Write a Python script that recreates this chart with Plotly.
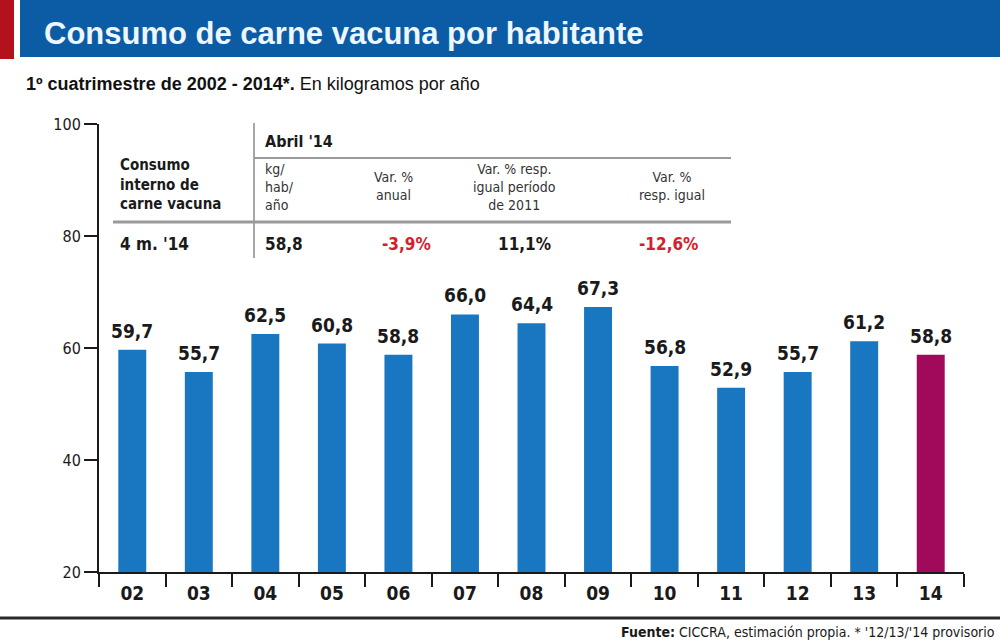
import plotly.graph_objects as go

# ---------------- data ----------------
years = ["02", "03", "04", "05", "06", "07", "08", "09", "10", "11", "12", "13", "14"]
consumo = [59.7, 55.7, 62.5, 60.8, 58.8, 66.0, 64.4, 67.3, 56.8, 52.9, 55.7, 61.2, 58.8]
y_ticks = [20, 40, 60, 80, 100]

title = "Consumo de carne vacuna por habitante"
subtitle_bold = "1º cuatrimestre de 2002 - 2014*."
subtitle_rest = " En kilogramos por año"
source_bold = "Fuente:"
source_rest = " CICCRA, estimación propia. * '12/13/'14 provisorio"

table_title = "Abril '14"
table_rowhead = "Consumo<br>interno de<br>carne vacuna"
table_colheads = ["kg/<br>hab/<br>año", "Var. %<br>anual", "Var. % resp.<br>igual período<br>de 2011", "Var. %<br>resp. igual"]
table_rowlabel = "4 m. '14"
table_values = ["58,8", "-3,9%", "11,1%", "-12,6%"]

# ---------------- styles ----------------
BLUE = "#1877c0"
MAGENTA = "#a1095a"
COND = "DejaVu Sans Condensed, Liberation Sans Narrow, Arial Narrow, sans-serif"
SANS = "Liberation Sans, Arial, sans-serif"
W, H = 1000, 643
ML, MR, MT, MB = 99, 36, 124, 71
PW, PH = W - ML - MR, H - MT - MB


def xp(px):
    return (px - ML) / PW


def yp(py):
    return (H - MB - py) / PH


colors = [BLUE] * (len(years) - 1) + [MAGENTA]
idx = list(range(len(years)))

fig = go.Figure()
fig.add_trace(go.Bar(x=idx, y=consumo, marker=dict(color=colors, line=dict(width=0)),
                     hoverinfo="skip"))

ann = []
shapes = []

# value labels from data
for i, v in zip(idx, consumo):
    ann.append(dict(x=i, y=v, xref="x", yref="y", text="<b>" + f"{v:.1f}".replace(".", ",") + "</b>",
                    showarrow=False, yanchor="bottom", yshift=6,
                    font=dict(family=COND, size=19, color="#1a1a1a")))

# header band
shapes.append(dict(type="rect", xref="paper", yref="paper", x0=xp(0), x1=xp(14), y0=yp(0), y1=yp(59),
                   fillcolor="#b3121c", line=dict(width=0), layer="below"))
shapes.append(dict(type="rect", xref="paper", yref="paper", x0=xp(20), x1=xp(1000), y0=yp(0), y1=yp(57),
                   fillcolor="#0b5ca5", line=dict(width=0), layer="below"))
ann.append(dict(x=xp(42), y=yp(34), xref="paper", yref="paper", xanchor="left", yanchor="middle",
                text="<b>" + title + "</b>", showarrow=False,
                font=dict(family=SANS, size=31, color="#eef6ff")))
ann.append(dict(x=xp(24), y=yp(84), xref="paper", yref="paper", xanchor="left", yanchor="middle",
                text="<b>" + subtitle_bold + "</b>" + subtitle_rest, showarrow=False,
                font=dict(family=SANS, size=18, color="#111111")))

# table lines
shapes.append(dict(type="line", xref="paper", yref="paper", x0=xp(254), x1=xp(254), y0=yp(123), y1=yp(258),
                   line=dict(color="#8a8a8a", width=1.5)))
shapes.append(dict(type="line", xref="paper", yref="paper", x0=xp(254), x1=xp(731), y0=yp(158), y1=yp(158),
                   line=dict(color="#9a9a9a", width=2)))
shapes.append(dict(type="line", xref="paper", yref="paper", x0=xp(113), x1=xp(731), y0=yp(222), y1=yp(222),
                   line=dict(color="#9a9a9a", width=3)))

ann.append(dict(x=xp(263), y=yp(141), xref="paper", yref="paper", xanchor="left", yanchor="middle",
                text="<b>" + table_title + "</b>", showarrow=False,
                font=dict(family=COND, size=16, color="#1a1a1a")))
ann.append(dict(x=xp(118), y=yp(184), xref="paper", yref="paper", xanchor="left", yanchor="middle",
                align="left", text="<b>" + table_rowhead + "</b>", showarrow=False,
                font=dict(family=COND, size=15, color="#1a1a1a")))
col_x = [263, 393, 514, 672]
col_anchor = ["left", "center", "center", "center"]
col_y = [187, 186, 187, 186]
for cx, ca, cy, txt in zip(col_x, col_anchor, col_y, table_colheads):
    ann.append(dict(x=xp(cx), y=yp(cy), xref="paper", yref="paper", xanchor=ca, yanchor="middle",
                    align=ca, text=txt, showarrow=False,
                    font=dict(family=COND, size=14, color="#333333")))
ann.append(dict(x=xp(118), y=yp(244), xref="paper", yref="paper", xanchor="left", yanchor="middle",
                text="<b>" + table_rowlabel + "</b>", showarrow=False,
                font=dict(family=COND, size=17, color="#1a1a1a")))
val_x = [263, 406, 524, 668]
val_anchor = ["left", "center", "center", "center"]
for vx, va, txt in zip(val_x, val_anchor, table_values):
    col = "#d4202c" if txt.startswith("-") else "#1a1a1a"
    ann.append(dict(x=xp(vx), y=yp(244), xref="paper", yref="paper", xanchor=va, yanchor="middle",
                    text="<b>" + txt + "</b>", showarrow=False,
                    font=dict(family=COND, size=17, color=col)))

# bottom rule and source
shapes.append(dict(type="line", xref="paper", yref="paper", x0=xp(0), x1=xp(1000), y0=yp(618), y1=yp(618),
                   line=dict(color="#2a2a2a", width=3)))
ann.append(dict(x=xp(997), y=yp(632), xref="paper", yref="paper", xanchor="right", yanchor="middle",
                text="<b>" + source_bold + "</b>" + source_rest, showarrow=False,
                font=dict(family=COND, size=14, color="#1a1a1a")))

fig.update_layout(
    width=W, height=H,
    margin=dict(l=ML, r=MR, t=MT, b=MB, pad=0),
    paper_bgcolor="white", plot_bgcolor="white",
    bargap=0.58, showlegend=False,
    shapes=shapes, annotations=ann,
)
fig.update_xaxes(type="linear", range=[-0.5, len(years) - 0.5], tickmode="array",
                 tickvals=idx, ticktext=["<b>" + y + "</b>" for y in years],
                 showline=True, linecolor="#1a1a1a", linewidth=2,
                 ticks="", showgrid=False, zeroline=False,
                 tickfont=dict(family=COND, size=19, color="#1a1a1a"), ticklabelstandoff=3)
# boundary ticks drawn via minor ticks at category edges
fig.update_xaxes(minor=dict(tickmode="array", tickvals=[i - 0.5 for i in range(len(years) + 1)],
                            ticks="outside", ticklen=13, tickwidth=2, tickcolor="#1a1a1a", showgrid=False))
fig.update_yaxes(range=[20, 100], tickvals=y_ticks, showline=True, linecolor="#1a1a1a", linewidth=2,
                 ticks="outside", ticklen=13, tickwidth=2, tickcolor="#1a1a1a",
                 tickfont=dict(family=COND, size=16, color="#1a1a1a"), showgrid=False, zeroline=False,
                 tickprefix="<b>", ticksuffix="</b>")

fig.write_html("out.html")
